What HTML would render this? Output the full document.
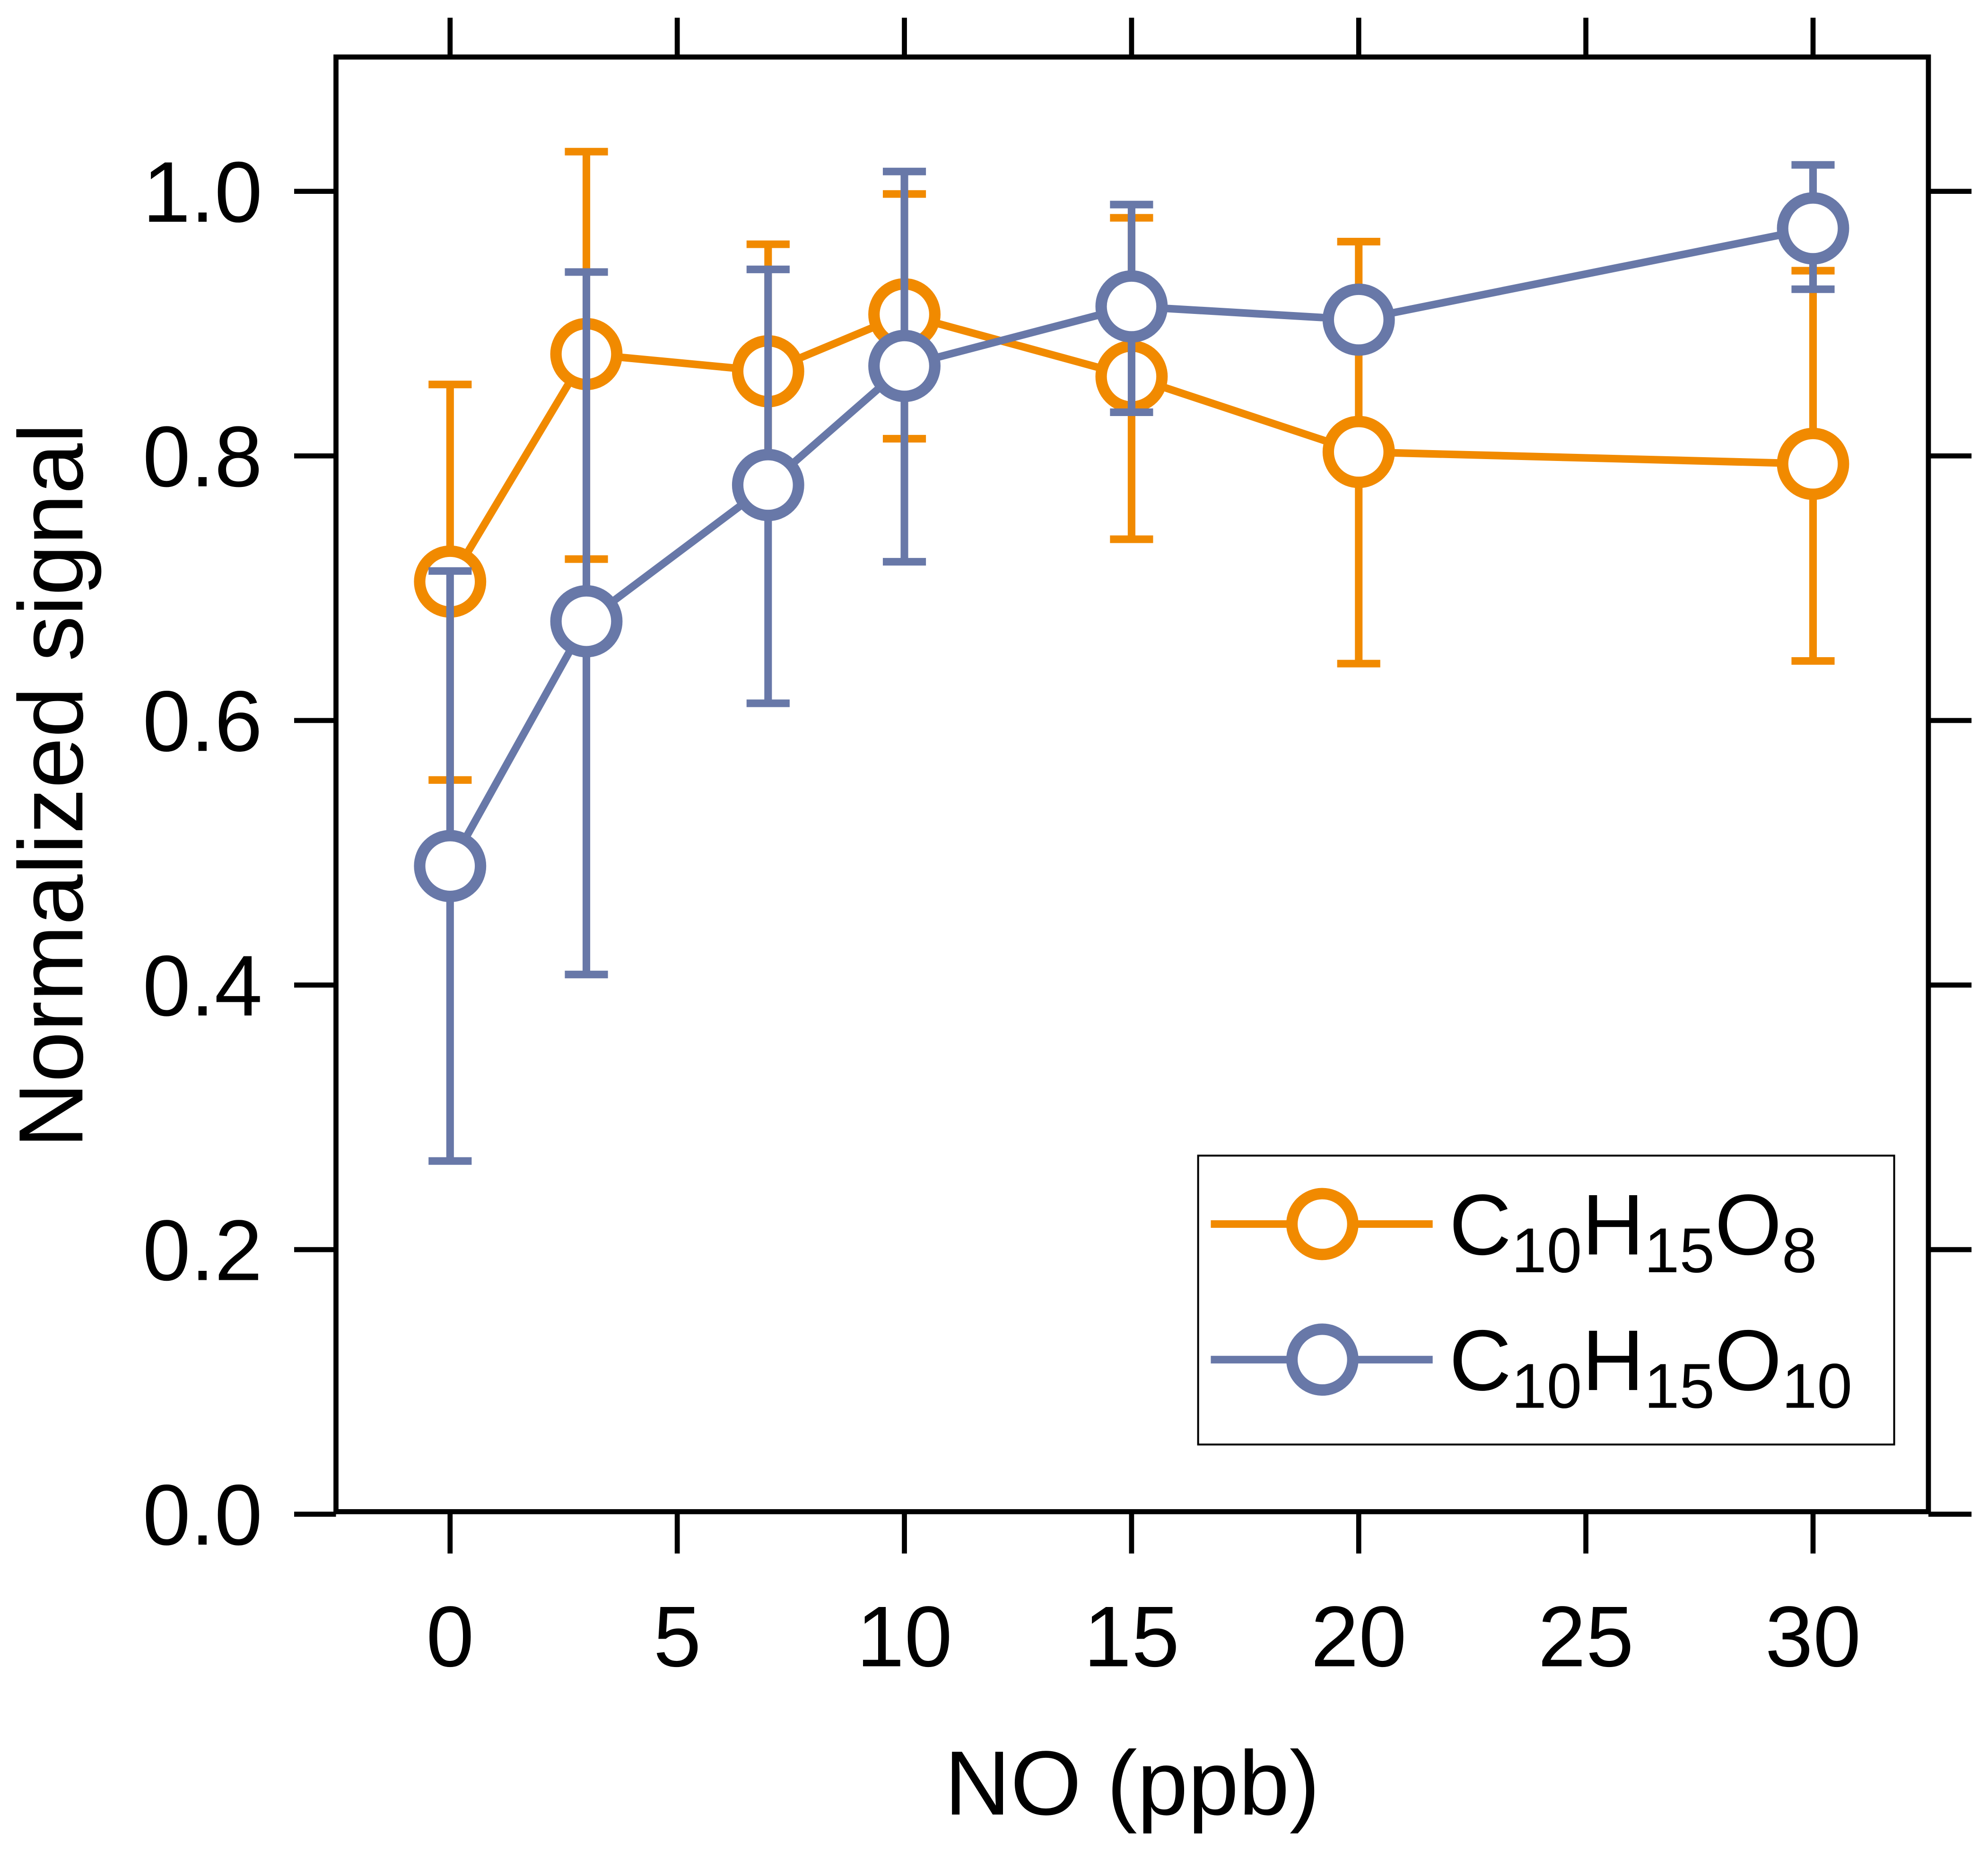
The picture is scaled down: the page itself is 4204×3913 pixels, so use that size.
<!DOCTYPE html>
<html><head><meta charset="utf-8"><style>
html,body{margin:0;padding:0;background:#fff;}
svg{display:block;font-family:"Liberation Sans",Arial,sans-serif;}
</style></head><body>
<svg id="chart" width="4204" height="3913" viewBox="0 0 1568 1460" preserveAspectRatio="none" xmlns="http://www.w3.org/2000/svg">
<rect x="0" y="0" width="1568" height="1460" fill="#fff"/>
<g id="series-layer"></g>
<rect x="265" y="45" width="1256" height="1148" fill="none" stroke="#000" stroke-width="4"/>
<g id="axis-layer"></g>
<text x="893" y="1432" text-anchor="middle" font-size="72">NO (ppb)</text>
<text transform="translate(65,620) rotate(-90)" text-anchor="middle" font-size="72">Normalized signal</text>
<g>
<rect x="945" y="912" width="549" height="228" fill="#fff" stroke="#000" stroke-width="1.5"/>
<g>
<line x1="955" y1="966" x2="1130" y2="966" stroke="#F18A00" stroke-width="6"/>
<circle cx="1043" cy="966" r="24" fill="#fff" stroke="#F18A00" stroke-width="9"/>
<text x="1143" y="990" font-size="68">C<tspan font-size="50" dy="14">10</tspan><tspan dy="-14">H</tspan><tspan font-size="50" dy="14">15</tspan><tspan dy="-14">O</tspan><tspan font-size="50" dy="14">8</tspan></text>
</g>
<g>
<line x1="955" y1="1073" x2="1130" y2="1073" stroke="#6878A8" stroke-width="6"/>
<circle cx="1043" cy="1073" r="24" fill="#fff" stroke="#6878A8" stroke-width="9"/>
<text x="1143" y="1097" font-size="68">C<tspan font-size="50" dy="14">10</tspan><tspan dy="-14">H</tspan><tspan font-size="50" dy="14">15</tspan><tspan dy="-14">O</tspan><tspan font-size="50" dy="14">10</tspan></text>
</g>
</g>
</svg>
<script>
const xValues = [0, 3, 7, 10, 15, 20, 30];
const orangeY = [0.705, 0.877, 0.864, 0.907, 0.860, 0.803, 0.794];
const orangeLo = [0.555, 0.722, 0.770, 0.813, 0.737, 0.643, 0.645];
const orangeHi = [0.854, 1.030, 0.960, 0.998, 0.980, 0.962, 0.940];
const blueY = [0.490, 0.675, 0.778, 0.868, 0.913, 0.903, 0.972];
const blueLo = [0.267, 0.408, 0.613, 0.720, 0.833, 0.886, 0.926];
const blueHi = [0.713, 0.939, 0.941, 1.015, 0.990, 0.920, 1.020];
const xTicks = [0, 5, 10, 15, 20, 25, 30];
const yTicks = [0.0, 0.2, 0.4, 0.6, 0.8, 1.0];

const NS = "http://www.w3.org/2000/svg";
function xs(v){ return 355 + v * (1430 - 355) / 30; }
function ys(v){ return 1195 - v * (1195 - 151); }
function mk(tag, attrs, parent){
  const e = document.createElementNS(NS, tag);
  for (const k in attrs) e.setAttribute(k, attrs[k]);
  parent.appendChild(e);
  return e;
}
const axis = document.getElementById('axis-layer');
xTicks.forEach(t => {
  const x = xs(t);
  const a = mk('line', {x1:x, y1:1193, x2:x, y2:1226, stroke:'#000', 'stroke-width':4}, axis);
  
  
  const b = mk('line', {x1:x, y1:45, x2:x, y2:14, stroke:'#000', 'stroke-width':4}, axis);
  
  
  const tx = mk('text', {x:x, y:1315, 'text-anchor':'middle', 'font-size':68}, axis);
  tx.textContent = String(t);
  
  
});
yTicks.forEach(t => {
  const y = ys(t);
  const a = mk('line', {x1:232, y1:y, x2:265, y2:y, stroke:'#000', 'stroke-width':4}, axis);
  
  
  const b = mk('line', {x1:1521, y1:y, x2:1555, y2:y, stroke:'#000', 'stroke-width':4}, axis);
  
  
  const tx = mk('text', {x:207, y:y + 24, 'text-anchor':'end', 'font-size':68}, axis);
  tx.textContent = t.toFixed(1);
  
  
});
const layer = document.getElementById('series-layer');
function drawSeries(name, color, ys_, lo, hi){
  const g = mk('g', {}, layer);
  
  
  const pts = xValues.map((x, i) => xs(x) + ',' + ys(ys_[i])).join(' ');
  const pl = mk('polyline', {points:pts, fill:'none', stroke:color, 'stroke-width':6}, g);
  
  
  xValues.forEach((x, i) => {
    const cx = xs(x);
    const e = mk('path', {d:`M${cx},${ys(lo[i])}V${ys(hi[i])}M${cx-17},${ys(lo[i])}H${cx+17}M${cx-17},${ys(hi[i])}H${cx+17}`, stroke:color, 'stroke-width':6, fill:'none'}, g);
    
    
  });
  xValues.forEach((x, i) => {
    const c = mk('circle', {cx:xs(x), cy:ys(ys_[i]), r:24, fill:'#fff', stroke:color, 'stroke-width':9}, g);
    
    
  });
}
drawSeries('c10h15o8', '#F18A00', orangeY, orangeLo, orangeHi);
drawSeries('c10h15o10', '#6878A8', blueY, blueLo, blueHi);
</script>
</body></html>
